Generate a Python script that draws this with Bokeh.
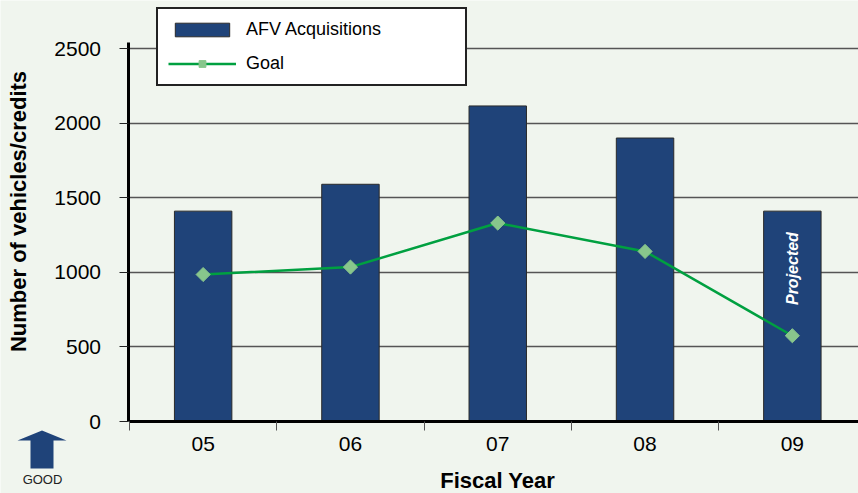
from math import pi
from bokeh.plotting import figure
from bokeh.models import (Range1d, FixedTicker, Legend, LegendItem, PolyAnnotation, Label)
from bokeh.core.properties import value
from bokeh.embed import file_html
from bokeh.resources import INLINE

# ---- data ----
years = ["05", "06", "07", "08", "09"]
acquisitions = [1410, 1590, 2115, 1900, 1410]
goal = [985, 1035, 1330, 1140, 575]
y_ticks = [0, 500, 1000, 1500, 2000, 2500]
projected_label = "Projected"

# ---- style / layout (pixels) ----
W, H = 858, 493
X0_PX = 129          # pixel of the left edge of the first category
CAT_PX = 147.3       # pixels per category
Y0_PX = 421          # pixel row of value 0
PX_PER_UNIT = 0.1492 # pixels per vehicle
BG = "#f0f5ee"
NAVY = "#1f4379"
GREEN = "#00a040"
LIGHT_GREEN = "#88c68c"
FONT = "Liberation Sans"
PROJECTED_Y = 1025

xpos = [i + 0.5 for i in range(len(years))]
n = len(years)

x_range = Range1d(-X0_PX / CAT_PX, (W - X0_PX) / CAT_PX)
y_range = Range1d(-(H - Y0_PX) / PX_PER_UNIT, Y0_PX / PX_PER_UNIT)

p = figure(width=W, height=H, output_backend="svg", toolbar_location=None,
           x_range=x_range, y_range=y_range,
           min_border_left=0, min_border_right=0, min_border_top=0, min_border_bottom=0,
           background_fill_color=BG, border_fill_color=BG, outline_line_color=None)

# grid (horizontal lines starting at the y axis)
p.xgrid.visible = False
p.ygrid.ticker = FixedTicker(ticks=y_ticks[1:])
p.ygrid.grid_line_color = "#555555"
p.ygrid.grid_line_width = 1.5
try:
    p.ygrid.cross_bounds = (0, n)
except Exception:
    p.ygrid.visible = False
    p.segment(x0=[0] * (len(y_ticks) - 1), x1=[n] * (len(y_ticks) - 1),
              y0=y_ticks[1:], y1=y_ticks[1:], line_color="#555555", line_width=1.5)

# y axis (fixed at the first category edge)
ya = p.yaxis[0]
ya.fixed_location = -1.5 / CAT_PX
ya.ticker = FixedTicker(ticks=y_ticks)
ya.bounds = (0, 2540)
ya.axis_line_width = 3
ya.axis_line_color = "black"
ya.major_tick_out = 9
ya.major_tick_in = 0
ya.major_tick_line_color = "#222222"
ya.minor_tick_line_color = None
ya.major_label_text_font = FONT
ya.major_label_text_font_size = "21px"
ya.major_label_text_color = "black"
ya.major_label_standoff = 18

# x axis (fixed at value 0)
xa = p.xaxis[0]
xa.fixed_location = 0
xa.bounds = (0, n)
xa.ticker = FixedTicker(ticks=xpos, minor_ticks=list(range(n + 1)))
xa.major_label_overrides = {x: y for x, y in zip(xpos, years)}
xa.axis_line_width = 3
xa.axis_line_color = "black"
xa.major_tick_line_color = None
xa.major_tick_out = 0
xa.major_tick_in = 0
xa.minor_tick_out = 9
xa.minor_tick_in = 0
xa.minor_tick_line_color = "#555555"
xa.minor_tick_line_width = 1
xa.major_label_text_font = FONT
xa.major_label_text_font_size = "21px"
xa.major_label_text_color = "black"
xa.major_label_standoff = 6

# axis titles
p.add_layout(Label(x=n / 2, y=13, x_units="data", y_units="screen", text="Fiscal Year",
                   text_align="center", text_baseline="middle", text_font=FONT,
                   text_font_size="22px", text_font_style="bold", text_color="black"))
p.add_layout(Label(x=18, y=H - 211, x_units="screen", y_units="screen",
                   text="Number of vehicles/credits", angle=pi / 2,
                   text_align="center", text_baseline="middle", text_font=FONT,
                   text_font_size="22px", text_font_style="bold", text_color="black"))

# bars
bars = p.vbar(x=xpos, top=acquisitions, width=0.39, fill_color=NAVY,
              line_color="#2a2a2a", line_width=1)

# goal line
gl = p.line(xpos, goal, line_color=GREEN, line_width=2.5)
gp = p.scatter(xpos, goal, marker="square", angle=pi / 4, size=10,
               fill_color=LIGHT_GREEN, line_color=LIGHT_GREEN)

# projected label
p.text(x=[xpos[-1]], y=[PROJECTED_Y], text=[projected_label], angle=pi / 2,
       text_align="center", text_baseline="middle", text_color="white",
       text_font=value(FONT), text_font_size="16px", text_font_style="bold italic")

legend = Legend(items=[LegendItem(label="AFV Acquisitions", renderers=[bars]),
                       LegendItem(label="Goal", renderers=[gl, gp])],
                location=(156, H - 86), orientation="vertical",
                label_text_font=FONT, label_text_font_size="18px", label_text_color="black",
                glyph_width=68, glyph_height=17, label_height=17, label_standoff=10,
                label_width=209, padding=10, spacing=13, margin=0,
                border_line_color="#222222", border_line_width=2, border_line_alpha=1.0,
                background_fill_color="white", background_fill_alpha=1.0)
p.add_layout(legend)

# "GOOD" arrow in the lower-left corner
arrow = PolyAnnotation(xs=[41.5, 66, 53, 53, 30, 30, 17],
                       ys=[H - 430, H - 440, H - 440, H - 468, H - 468, H - 440, H - 440],
                       xs_units="screen", ys_units="screen",
                       fill_color=NAVY, fill_alpha=1.0, line_color=None)
p.add_layout(arrow)
p.add_layout(Label(x=42, y=H - 479, x_units="screen", y_units="screen", text="GOOD",
                   text_align="center", text_baseline="middle", text_font=FONT,
                   text_font_size="13px", text_color="#222222"))

open("out.html", "w").write(file_html(p, INLINE))
